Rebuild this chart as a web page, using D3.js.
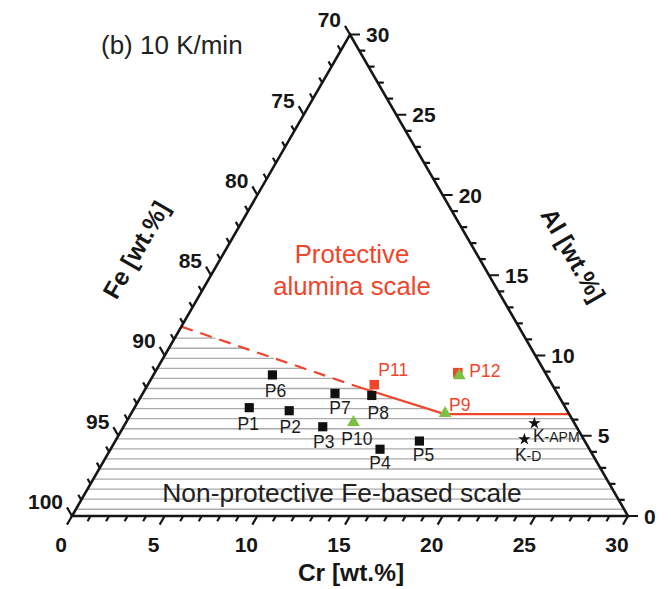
<!DOCTYPE html>
<html>
<head>
<meta charset="utf-8">
<script src="https://cdn.jsdelivr.net/npm/d3@7"></script>
<style>
  body { margin: 0; background: #fff; }
  svg { display: block; font-family: "Liberation Sans", Arial, sans-serif; }
</style>
</head>
<body>
<svg id="chart" width="671" height="589"></svg>
<script>
// ---- Alloy compositions in wt.% (Fe = balance) ----
// Square markers: black = non-protective scale, red = protective alumina scale
const squareNames = ["P1", "P2", "P3", "P4", "P5", "P6", "P7", "P8", "P11", "P12"];
const squareCr    = [6.19, 8.44, 10.75, 14.54, 16.41, 6.42, 10.37, 12.42, 12.22, 16.35];
const squareAl    = [6.75, 6.56, 5.56, 4.16, 4.67, 8.79, 7.64, 7.51, 8.18, 8.93];
const squareProtective = [false, false, false, false, false, false, false, false, true, true];

// Triangle markers
const triangleNames = ["P9", "P10", "P12"];
const triangleCr    = [16.93, 12.27, 16.52];
const triangleAl    = [6.40, 5.83, 8.75];

// Commercial reference alloys (stars)
const starNames = ["K-APM", "K-D"];
const starCr    = [22.06, 22.02];
const starAl    = [5.78, 4.78];

// Border between protective and non-protective oxidation (Cr, Al)
const borderDashedCr = [0, 11.4];
const borderDashedAl = [11.8, 8.05];
const borderSolidCr  = [11.4, 16.93, 23.65];
const borderSolidAl  = [8.05, 6.35, 6.35];

// Axis tick labels
const crTickLabels = [0, 5, 10, 15, 20, 25, 30];
const alTickLabels = [0, 5, 10, 15, 20, 25, 30];
const feTickLabels = [70, 75, 80, 85, 90, 95, 100];

// ---- Geometry ----
const RED = "#f0452b", GREEN = "#7cc242", INK = "#161616";
const X0 = 72, Y0 = 516, SIDE = 556;
const H = Math.sqrt(3) / 2;
const len = d3.scaleLinear().domain([0, 30]).range([0, SIDE]);
const proj = (cr, al) => [X0 + len(cr) + len(al) / 2, Y0 - len(al) * H];

const svg = d3.select("#chart");

// ---- Hatching of the non-protective region ----
const borderCr = borderDashedCr.concat(borderSolidCr.slice(1));
const borderAl = borderDashedAl.concat(borderSolidAl.slice(1));
function borderCrAt(al) {
  const minAl = d3.min(borderAl);
  if (al <= minAl) return 30 - al;
  for (let i = 0; i < borderAl.length - 1; i++) {
    const a0 = borderAl[i], a1 = borderAl[i + 1];
    if (al <= a0 && al >= a1 && a0 !== a1) {
      const t = (a0 - al) / (a0 - a1);
      return borderCr[i] + t * (borderCr[i + 1] - borderCr[i]);
    }
  }
  return 0;
}
const hatchLevels = d3.range(18).map(i => 0.42 + i * 0.627);
svg.append("g").selectAll("line").data(hatchLevels).join("line")
  .attr("x1", al => proj(0, al)[0])
  .attr("x2", al => proj(borderCrAt(al), al)[0])
  .attr("y1", al => proj(0, al)[1])
  .attr("y2", al => proj(0, al)[1])
  .attr("stroke", "#ababab")
  .attr("stroke-width", 1.3);

// ---- Border lines ----
const line = d3.line().x(d => d[0]).y(d => d[1]);
svg.append("path")
  .attr("d", line(borderDashedCr.map((c, i) => proj(c, borderDashedAl[i]))))
  .attr("fill", "none").attr("stroke", RED).attr("stroke-width", 2.2)
  .attr("stroke-dasharray", "12,8");
svg.append("path")
  .attr("d", line(borderSolidCr.map((c, i) => proj(c, borderSolidAl[i]))))
  .attr("fill", "none").attr("stroke", RED).attr("stroke-width", 2.2);

// ---- Triangle frame and ticks ----
const axes = svg.append("g");
axes.append("path")
  .attr("d", line([proj(0, 0), proj(30, 0), proj(0, 30)]) + "Z")
  .attr("fill", "none").attr("stroke", INK).attr("stroke-width", 2.6)
  .attr("stroke-linejoin", "miter");

const tickValues = d3.range(0, 31);
const tickLen = v => (v % 5 === 0 ? 10 : 6);
const tickPath = [];
tickValues.forEach(v => {
  const L = tickLen(v);
  // Cr: along lines of constant Cr (down-left)
  const [cx, cy] = proj(v, 0);
  tickPath.push(`M${cx},${cy}L${cx - L * 0.5},${cy + L * H}`);
  // Al: along lines of constant Al (to the right)
  const [ax, ay] = proj(30 - v, v);
  tickPath.push(`M${ax},${ay}L${ax + L},${ay}`);
  // Fe: along lines of constant Fe (up-left)
  const [fx, fy] = proj(0, v);
  tickPath.push(`M${fx},${fy}L${fx - L * 0.5},${fy - L * H}`);
});
axes.append("path").attr("d", tickPath.join(""))
  .attr("fill", "none").attr("stroke", INK).attr("stroke-width", 2.2);

const tickFont = g => g.attr("font-size", 21).attr("font-weight", "bold").attr("fill", INK);

axes.append("g").call(tickFont).selectAll("text").data(crTickLabels).join("text")
  .attr("x", v => proj(v, 0)[0] - 11)
  .attr("y", Y0 + 35.5)
  .attr("text-anchor", "middle")
  .text(v => v);

axes.append("g").call(tickFont).selectAll("text").data(alTickLabels).join("text")
  .attr("x", v => proj(30 - v, v)[0] + 16)
  .attr("y", v => proj(30 - v, v)[1])
  .attr("dy", "0.36em")
  .attr("text-anchor", "start")
  .text(v => v);

axes.append("g").call(tickFont).selectAll("text").data(feTickLabels).join("text")
  .attr("x", v => proj(0, 100 - v)[0] - 9)
  .attr("y", v => proj(0, 100 - v)[1] - 7.2)
  .attr("text-anchor", "end")
  .text(v => v);

// ---- Axis titles ----
const titleFont = g => g.attr("font-size", 24.5).attr("font-weight", "bold").attr("fill", INK)
  .attr("text-anchor", "middle").attr("dominant-baseline", "central");
svg.append("text").call(titleFont)
  .attr("transform", "translate(351,572)").text("Cr [wt.%]");
svg.append("text").call(titleFont)
  .attr("transform", "translate(136,250) rotate(-60)").text("Fe [wt.%]");
svg.append("text").call(titleFont)
  .attr("transform", "translate(573,255) rotate(60)").text("Al [wt.%]");

// ---- Region annotations ----
svg.append("text").attr("x", 101).attr("y", 54)
  .attr("font-size", 26).attr("fill", "#222").text("(b) 10 K/min");
const prot = svg.append("text").attr("text-anchor", "middle")
  .attr("font-size", 25.8).attr("fill", RED);
prot.append("tspan").attr("x", 352).attr("y", 263).text("Protective");
prot.append("tspan").attr("x", 352).attr("y", 295).text("alumina scale");
svg.append("text").attr("x", 342).attr("y", 502).attr("text-anchor", "middle")
  .attr("font-size", 26.4).attr("fill", "#222").text("Non-protective Fe-based scale");

// ---- Markers ----
const squares = squareNames.map((n, i) => ({
  name: n, p: proj(squareCr[i], squareAl[i]), red: squareProtective[i]
}));
const triangles = triangleNames.map((n, i) => ({ name: n, p: proj(triangleCr[i], triangleAl[i]) }));
const stars = starNames.map((n, i) => ({ name: n, p: proj(starCr[i], starAl[i]) }));

const marks = svg.append("g");
marks.selectAll("path.sq").data(squares).join("path").attr("class", "sq")
  .attr("transform", d => `translate(${d.p[0]},${d.p[1]})`)
  .attr("d", d => d3.symbol(d3.symbolSquare, d.red ? 92 : 84)())
  .attr("fill", d => d.red ? RED : "#111");
marks.selectAll("path.tri").data(triangles).join("path").attr("class", "tri")
  .attr("transform", d => `translate(${d.p[0]},${d.p[1]})`)
  .attr("d", d3.symbol(d3.symbolTriangle, 70)())
  .attr("fill", GREEN);
marks.selectAll("path.star").data(stars).join("path").attr("class", "star")
  .attr("transform", d => `translate(${d.p[0]},${d.p[1]})`)
  .attr("d", d3.symbol(d3.symbolStar, 48)())
  .attr("fill", "#111");

// ---- Point labels (offset from each marker) ----
const labelPlacement = {
  P1: [-1, 22, "middle"], P2: [1, 22, "middle"], P3: [1, 21, "middle"],
  P4: [0, 20, "middle"], P5: [4, 20, "middle"], P6: [3, 22.5, "middle"],
  P7: [5, 21, "middle"], P8: [6.5, 23.5, "middle"], P10: [3.5, 23, "middle"],
  P9: [4, -2, "start"], P11: [19, -9, "middle"], P12: [10, 1, "start"]
};
const redLabels = new Set(["P9", "P11", "P12"]);
const labelNames = ["P1","P2","P3","P4","P5","P6","P7","P8","P9","P10","P11","P12"];
const anchorOf = n => {
  const s = squares.find(d => d.name === n && !(n === "P12"));
  const t = triangles.find(d => d.name === n);
  return (t || s).p;
};
svg.append("g").attr("font-size", 17.5).selectAll("text").data(labelNames).join("text")
  .attr("x", n => anchorOf(n)[0] + labelPlacement[n][0])
  .attr("y", n => anchorOf(n)[1] + labelPlacement[n][1])
  .attr("text-anchor", n => labelPlacement[n][2])
  .attr("fill", n => redLabels.has(n) ? RED : "#1c1c1c")
  .text(n => n);

// Reference alloy labels: large "K", small suffix
const starPlacement = { "K-APM": [-1.5, 19], "K-D": [-9.5, 21.5] };
const starLabels = svg.append("g").attr("fill", "#1c1c1c").selectAll("text").data(stars).join("text")
  .attr("x", d => d.p[0] + starPlacement[d.name][0])
  .attr("y", d => d.p[1] + starPlacement[d.name][1]);
starLabels.append("tspan").attr("font-size", 17.5).text(d => d.name.split("-")[0]);
starLabels.append("tspan").attr("font-size", 14).text(d => "-" + d.name.split("-")[1]);
</script>
</body>
</html>
